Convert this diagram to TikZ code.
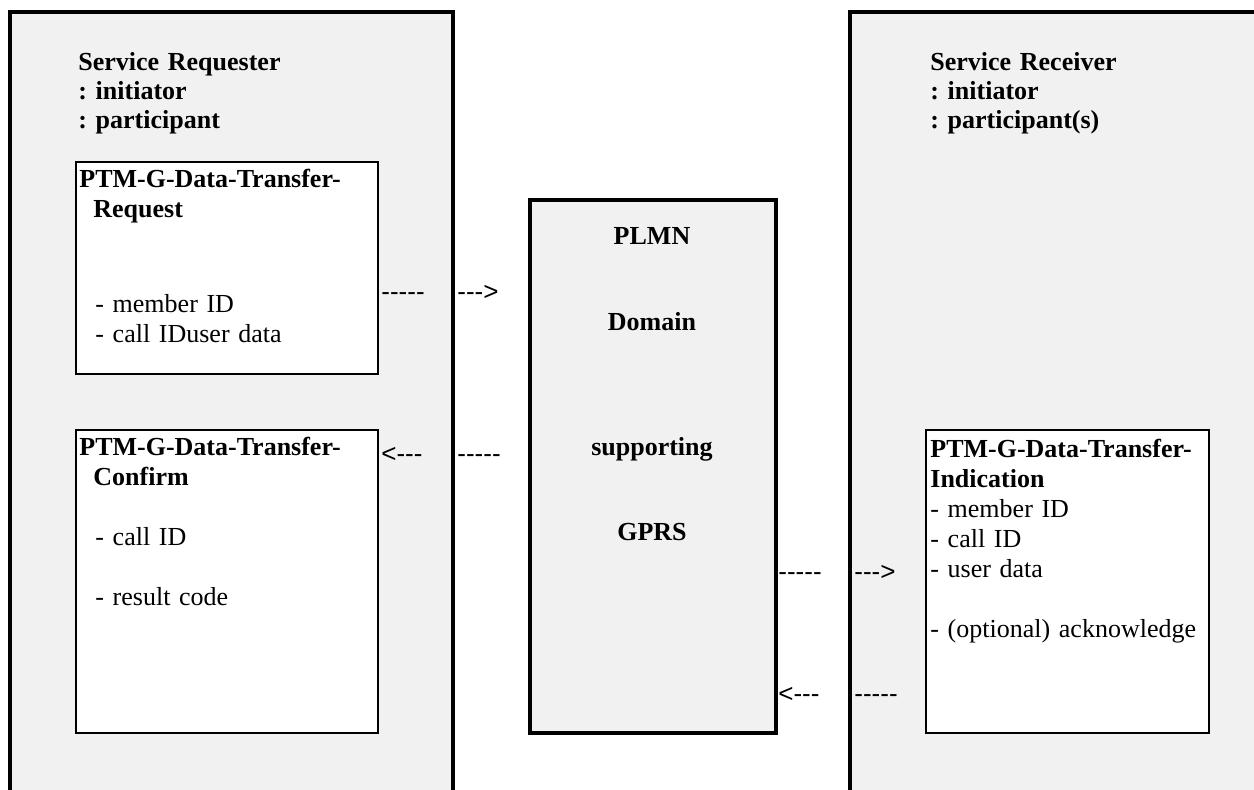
\documentclass[tikz,border=0pt]{standalone}
\usepackage{fontspec}
\setmainfont{Liberation Serif}
\newfontfamily\signalfont{Liberation Sans}
\frenchspacing
\definecolor{panelgray}{HTML}{F1F1F1}
\newcommand{\pageWidth}{1254}
\newcommand{\pageHeight}{789}
\newcommand{\panelTop}{12}
\newcommand{\panelBottom}{800}
\newcommand{\frameWidth}{2pt}
\newcommand{\boxWidth}{1pt}

\begin{document}
\begin{tikzpicture}[x=0.5pt, y=-0.5pt,
    every node/.style={inner sep=0pt, font=\fontsize{13}{15}\selectfont},
    roletext/.style={anchor=base west, align=left, text width=150pt, font=\fontsize{13}{14.5}\selectfont\bfseries},
    primtext/.style={anchor=base west, align=left, text width=150pt},
    signal/.style={anchor=base west, font=\fontsize{13}{15}\selectfont\signalfont},
    plmntext/.style={anchor=base, font=\fontsize{13}{15}\selectfont\bfseries}]
\useasboundingbox[fill=white] (0,0) rectangle (\pageWidth,\pageHeight);

      % the two end points
      \fill[panelgray] (9.5,\panelTop) rectangle (453,\panelBottom);
      \draw[line width=\frameWidth] (9.5,\panelBottom) |- (453,\panelTop) -- (453,\panelBottom);
      \fill[panelgray] (850,\panelTop) rectangle (1260,\panelBottom);
      \draw[line width=\frameWidth] (850,\panelBottom) |- (1260,\panelTop);

      % network in the middle
      \draw[line width=\frameWidth, fill=panelgray] (529.5,200) rectangle (775.5,733);

      % primitive boxes
      \draw[line width=\boxWidth, fill=white] (75.5,162) rectangle (377.5,374);
      \draw[line width=\boxWidth, fill=white] (75.5,430) rectangle (377.5,733);
      \draw[line width=\boxWidth, fill=white] (926,430) rectangle (1209,733);

\node (requester) [roletext] at (78,70) {Service Requester\\: initiator\\: participant};
\node (receiver) [roletext] at (930,70) {Service Receiver\\: initiator\\: participant(s)};

\node (reqhead) [primtext, font=\fontsize{13}{15}\selectfont\bfseries] at (79,187) {PTM-G-Data-Transfer-\\\hspace*{7pt}Request};
\node (reqitems) [primtext] at (95,312) {- member ID\\- call IDuser data};
\node (cnfhead) [primtext, font=\fontsize{13}{15}\selectfont\bfseries] at (79,455) {PTM-G-Data-Transfer-\\\hspace*{7pt}Confirm};
\node (cnfitems) [primtext] at (95,545) {- call ID\\[15pt]- result code};
\node (indtext) [primtext] at (930,457) {\textbf{PTM-G-Data-Transfer-}\\\textbf{Indication}\\- member ID\\- call ID\\- user data\\[15pt]- (optional) acknowledge};

\node (plmn) [plmntext] at (652,244) {PLMN};
\node (domain) [plmntext] at (652,330) {Domain};
\node (supporting) [plmntext] at (652,455) {supporting};
\node (gprs) [plmntext] at (652,540) {GPRS};

\node (reqout) [signal] at (381,300) {-----};
\node (reqin) [signal] at (457,300) {--->};
\node (cnfin) [signal] at (381,462) {<---};
\node (cnfout) [signal] at (457,462) {-----};
\node (indout) [signal] at (778,580) {-----};
\node (indin) [signal] at (854,580) {--->};
\node (ackin) [signal] at (778,702) {<---};
\node (ackout) [signal] at (854,702) {-----};

   \end{tikzpicture}
\end{document}
